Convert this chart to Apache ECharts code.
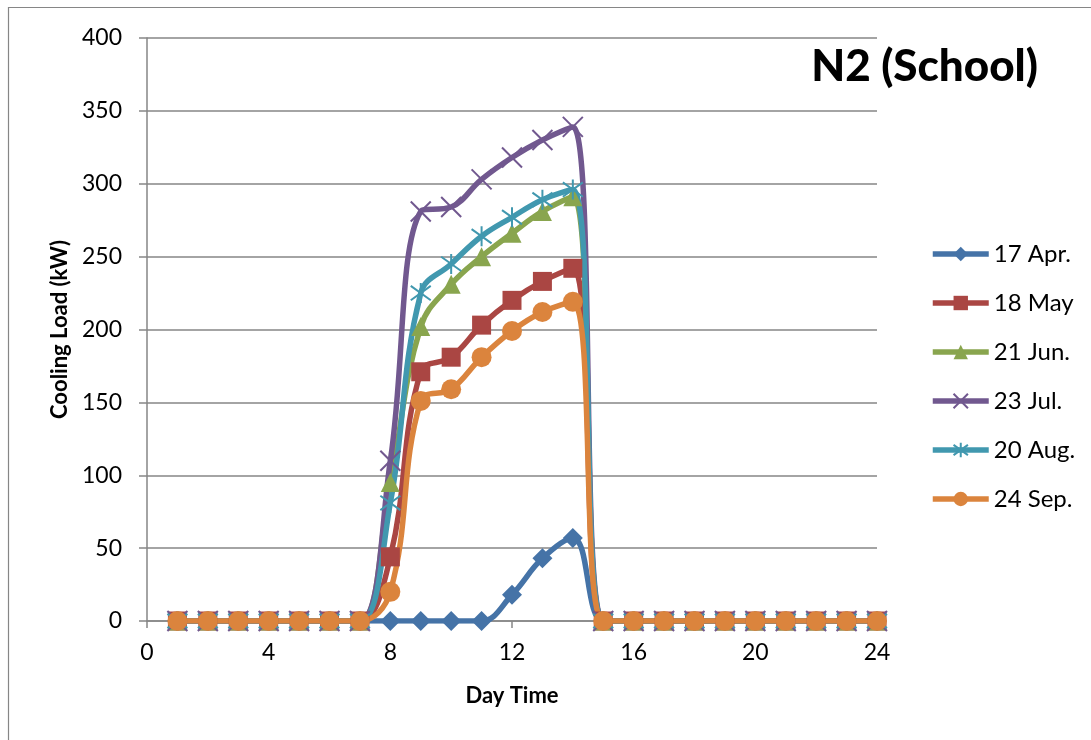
<!DOCTYPE html>
<html>
<head>
<meta charset="utf-8">
<title>N2 (School)</title>
<script src="https://cdn.jsdelivr.net/npm/echarts@6/dist/echarts.min.js"></script>
<style>
    html, body { margin: 0; padding: 0; background: #fff; }
    #chart { width: 1091px; height: 740px; }
</style>
</head>
<body>
<div id="chart"></div>
<script>
// hours of the day, 1..24
const hours = [1, 2, 3, 4, 5, 6, 7, 8, 9, 10, 11, 12, 13, 14, 15, 16, 17, 18, 19, 20, 21, 22, 23, 24];

const apr17 = [0, 0, 0, 0, 0, 0, 0, 0, 0, 0, 0, 18, 43, 57, 0, 0, 0, 0, 0, 0, 0, 0, 0, 0];
const may18 = [0, 0, 0, 0, 0, 0, 0, 44, 171, 181, 203, 220, 233, 242, 0, 0, 0, 0, 0, 0, 0, 0, 0, 0];
const jun21 = [0, 0, 0, 0, 0, 0, 0, 95, 202, 231, 250, 266, 281, 291, 0, 0, 0, 0, 0, 0, 0, 0, 0, 0];
const jul23 = [0, 0, 0, 0, 0, 0, 0, 110, 281, 284, 303, 318, 330, 339, 0, 0, 0, 0, 0, 0, 0, 0, 0, 0];
const aug20 = [0, 0, 0, 0, 0, 0, 0, 81, 225, 245, 264, 277, 289, 296, 0, 0, 0, 0, 0, 0, 0, 0, 0, 0];
const sep24 = [0, 0, 0, 0, 0, 0, 0, 20, 151, 159, 181, 199, 212, 219, 0, 0, 0, 0, 0, 0, 0, 0, 0, 0];

const xTicks = [0, 4, 8, 12, 16, 20, 24];
const yTicks = [0, 50, 100, 150, 200, 250, 300, 350, 400];

const FONT = 'Lato';
const AXIS_GRAY = '#868686';

const crossPath = 'path://M0,0L10,10M10,0L0,10';
const starPath = 'path://M0,2L10,12M10,2L0,12M5,0L5,14';

function pairs(values) {
    return hours.map((h, i) => [h, values[i]]);
}

function lineSeries(name, values, color, symbol, size, hollow) {
    const series = {
        name,
        type: 'line',
        data: pairs(values),
        smooth: 0.4,
        symbol,
        symbolSize: size,
        showAllSymbol: true,
        lineStyle: { color, width: 5.5 },
        itemStyle: { color },
        emphasis: { disabled: true },
    };
    if (hollow) {
        series.itemStyle = { color: 'rgba(0,0,0,0)', borderColor: color, borderWidth: 2 };
    }
    return series;
}

const chart = echarts.init(document.getElementById('chart'), null, { renderer: 'canvas' });

chart.setOption({
    animation: false,
    backgroundColor: '#fff',
    title: {
        text: 'N2 (School)',
        right: 53,
        top: 45,
        padding: 0,
        textStyle: { fontFamily: FONT, fontWeight: 900, fontSize: 44, color: '#000' },
    },
    graphic: [{
        type: 'rect',
        shape: { x: 8.5, y: 7.5, width: 1200, height: 1000 },
        style: { fill: 'none', stroke: AXIS_GRAY, lineWidth: 1.2 },
        silent: true,
    }],
    legend: {
        orient: 'vertical',
        left: 925,
        top: 237,
        itemWidth: 56,
        itemHeight: 18,
        itemGap: 25,
        lineStyle: { width: 5.5 },
        textStyle: { fontFamily: FONT, fontSize: 24, color: '#000', lineHeight: 24 },
        data: ['17 Apr.', '18 May', '21 Jun.', '23 Jul.', '20 Aug.', '24 Sep.'],
    },
    grid: { left: 147, right: 214, top: 38, bottom: 119 },
    xAxis: {
        type: 'value',
        min: xTicks[0],
        max: xTicks[xTicks.length - 1],
        interval: 4,
        name: 'Day Time',
        nameLocation: 'middle',
        nameGap: 64,
        nameTextStyle: { fontFamily: FONT, fontWeight: 'bold', fontSize: 22, color: '#000' },
        axisLine: { lineStyle: { color: AXIS_GRAY, width: 1.5 } },
        axisTick: { show: true, length: 7, lineStyle: { color: AXIS_GRAY, width: 1.5 } },
        axisLabel: { fontFamily: FONT, fontSize: 23, color: '#000', margin: 20 },
        splitLine: { show: false },
    },
    yAxis: {
        type: 'value',
        min: yTicks[0],
        max: yTicks[yTicks.length - 1],
        interval: 50,
        name: 'Cooling Load (kW)',
        nameLocation: 'middle',
        nameGap: 76,
        nameTextStyle: { fontFamily: FONT, fontWeight: 'bold', fontSize: 22, color: '#000' },
        axisLine: { show: true, lineStyle: { color: AXIS_GRAY, width: 1.5 } },
        axisTick: { show: true, length: 8, lineStyle: { color: AXIS_GRAY, width: 1.5 } },
        axisLabel: { fontFamily: FONT, fontSize: 23, color: '#000', margin: 25 },
        splitLine: { show: true, lineStyle: { color: AXIS_GRAY, width: 1.5 } },
    },
    series: [
        lineSeries('17 Apr.', apr17, '#4573a7', 'diamond', 20, false),
        lineSeries('18 May', may18, '#aa4643', 'rect', 19, false),
        lineSeries('21 Jun.', jun21, '#89a54e', 'triangle', 19, false),
        lineSeries('23 Jul.', jul23, '#71588f', crossPath, 20, true),
        lineSeries('20 Aug.', aug20, '#4198af', starPath, 20, true),
        lineSeries('24 Sep.', sep24, '#db843d', 'circle', 20, false),
    ],
});
</script>
</body>
</html>
